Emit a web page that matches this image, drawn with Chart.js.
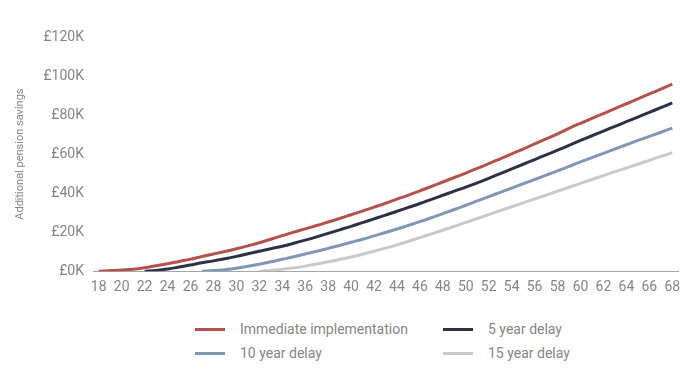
<!DOCTYPE html>
<html>
<head>
<meta charset="utf-8">
<script src="https://cdn.jsdelivr.net/npm/chart.js@4"></script>
<style>
	html, body { margin: 0; padding: 0; background: #fff; }
	#wrap { position: relative; width: 686px; height: 372px; }
	#chart-box { position: absolute; left: 0; top: 0; width: 686px; height: 305px; }
	.legend { position: absolute; font-family: Roboto, sans-serif; font-size: 14px; color: #858585; }
	.legend span.swatch { position: absolute; left: 0; top: 7px; width: 30px; height: 3px; }
	.legend span.txt { position: absolute; left: 45px; top: 0; white-space: nowrap; line-height: 17px; }
</style>
</head>
<body>
<div id="wrap">
	<div id="chart-box"><canvas id="pension-chart"></canvas></div>
</div>
<script>
	// Ages along the x axis (one point per year).
	var AGES = [18, 19, 20, 21, 22, 23, 24, 25, 26, 27, 28, 29, 30, 31, 32, 33, 34, 35, 36, 37,
		38, 39, 40, 41, 42, 43, 44, 45, 46, 47, 48, 49, 50, 51, 52, 53, 54, 55, 56, 57,
		58, 59, 60, 61, 62, 63, 64, 65, 66, 67, 68];

	// Age labels shown under the axis.
	var X_TICKS = [18, 20, 22, 24, 26, 28, 30, 32, 34, 36, 38, 40, 42, 44, 46, 48, 50, 52, 54, 56, 58, 60, 62, 64, 66, 68];

	// Y tick values, in £ thousands.
	var Y_TICKS = [0, 20, 40, 60, 80, 100, 120];

	// Additional pension savings, £ thousands.
	var IMMEDIATE = [0, 0.3, 0.6, 1.0, 1.8, 2.8, 3.8, 5.0, 6.2, 7.5, 8.8, 10.1, 11.5, 13.0, 14.6, 16.4, 18.2, 20.0, 21.7, 23.4,
		25.2, 27.0, 28.9, 30.8, 32.8, 34.8, 36.9, 39.0, 41.2, 43.4, 45.7, 48.0, 50.3, 52.7, 55.1, 57.6, 60.1, 62.6, 65.2, 67.8,
		70.4, 73.2, 75.8, 78.3, 80.8, 83.3, 85.8, 88.3, 90.8, 93.3, 95.8];

	var DELAY_5 = [null, null, null, null, 0, 0.4, 1.1, 2.1, 3.2, 4.3, 5.3, 6.4, 7.6, 8.9, 10.2, 11.5, 12.8, 14.3, 15.9, 17.6,
		19.4, 21.2, 23.0, 24.9, 26.8, 28.7, 30.7, 32.7, 34.7, 36.8, 38.9, 41.0, 43.1, 45.3, 47.6, 50.0, 52.4, 54.8, 57.2, 59.6,
		62.0, 64.5, 67.0, 69.4, 71.8, 74.2, 76.6, 79.0, 81.4, 83.8, 86.2];

	var DELAY_10 = [null, null, null, null, null, null, null, null, null, 0, 0.3, 0.8, 1.5, 2.5, 3.6, 4.8, 6.1, 7.4, 8.8, 10.2,
		11.7, 13.2, 14.8, 16.4, 18.1, 19.8, 21.6, 23.5, 25.4, 27.4, 29.5, 31.6, 33.8, 36.0, 38.2, 40.4, 42.6, 44.8, 47.0, 49.2,
		51.4, 53.7, 56.0, 58.2, 60.4, 62.6, 64.8, 67.0, 69.1, 71.2, 73.3];

	var DELAY_15 = [null, null, null, null, null, null, null, null, null, null, null, null, null, null, 0, 0.4, 1.0, 1.7, 2.6, 3.7,
		4.8, 6.0, 7.3, 8.7, 10.2, 11.8, 13.5, 15.3, 17.2, 19.1, 21.0, 23.0, 25.0, 27.0, 29.0, 31.0, 33.0, 35.0, 37.0, 39.0,
		41.0, 43.0, 45.0, 47.0, 49.0, 51.0, 52.9, 54.8, 56.8, 58.8, 60.7];

	var SERIES_LABELS = ['Immediate implementation', '5 year delay', '10 year delay', '15 year delay'];
	var SERIES_DATA   = [IMMEDIATE, DELAY_5, DELAY_10, DELAY_15];
	var SERIES_COLORS = ['#b4514a', '#2e3145', '#7e97b7', '#c9c9c9'];

	var FONT_FAMILY = 'Roboto, sans-serif';
	var TEXT_COLOR  = '#858585';

	function toPoints(values) {
		return AGES.map(function (age, i) {
			return { x: age, y: values[i] };
		});
	}

	var datasets = SERIES_DATA.map(function (values, i) {
		return {
			label:           SERIES_LABELS[i],
			data:            toPoints(values),
			borderColor:     SERIES_COLORS[i],
			backgroundColor: SERIES_COLORS[i],
			borderWidth:     3,
			pointRadius:     0,
			tension:         0.4,
			fill:            false,
			order:           i,
		};
	});

	new Chart(document.getElementById('pension-chart'), {
		type: 'line',
		data: { datasets: datasets },
		options: {
			responsive:          true,
			maintainAspectRatio: false,
			animation:           false,
			layout: {
				padding: { left: 14, right: 8, top: 37, bottom: 9 },
			},
			plugins: {
				legend:  { display: false },
				tooltip: { enabled: false },
			},
			scales: {
				x: {
					type: 'linear',
					min:  17.5,
					max:  68.5,
					afterBuildTicks: function (axis) {
						axis.ticks = X_TICKS.map(function (v) { return { value: v }; });
					},
					grid:   { display: false },
					border: { display: true, color: '#a6a6a6', width: 1 },
					ticks: {
						color:       TEXT_COLOR,
						font:        { family: FONT_FAMILY, size: 14 },
						padding:     0,
						maxRotation: 0,
						autoSkip:    false,
					},
				},
				y: {
					min: 0,
					max: 120,
					afterBuildTicks: function (axis) {
						axis.ticks = Y_TICKS.map(function (v) { return { value: v }; });
					},
					afterFit: function (axis) {
						axis.width = 79;
					},
					grid:   { display: false },
					border: { display: false },
					ticks: {
						color:   TEXT_COLOR,
						font:    { family: FONT_FAMILY, size: 14 },
						padding: 1,
						callback: function (value) {
							return '£' + value + 'K';
						},
					},
					title: {
						display: true,
						text:    'Additional pension savings',
						color:   TEXT_COLOR,
						font:    { family: FONT_FAMILY, size: 11 },
						padding: { top: 0, bottom: 0 },
					},
				},
			},
		},
	});

	// Legend laid out as a two-by-two grid, like the original.
	var LEGEND_POS = [[195, 321], [443, 321], [195, 345], [443, 345]];
	var wrap = document.getElementById('wrap');
	SERIES_LABELS.forEach(function (label, i) {
		var item = document.createElement('div');
		item.className = 'legend';
		item.style.left = LEGEND_POS[i][0] + 'px';
		item.style.top  = LEGEND_POS[i][1] + 'px';
		item.innerHTML = '<span class="swatch" style="background:' + SERIES_COLORS[i] + '"></span>' +
			'<span class="txt"></span>';
		item.querySelector('.txt').textContent = label;
		wrap.appendChild(item);
	});
</script>
</body>
</html>
